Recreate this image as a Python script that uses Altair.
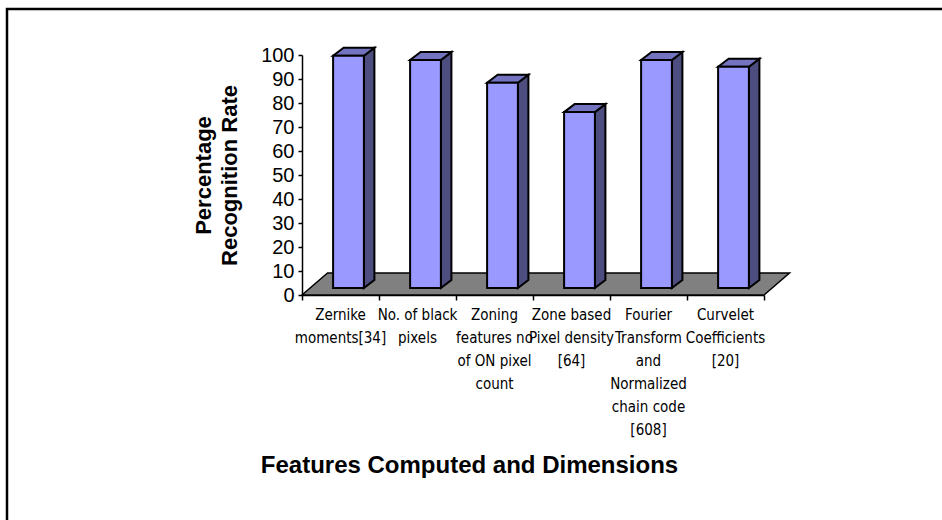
import altair as alt
import pandas as pd

# ---------------- data ----------------
categories = [
    "Zernike moments[34]",
    "No. of black pixels",
    "Zoning features no of ON pixel count",
    "Zone based Pixel density [64]",
    "Fourier Transform and Normalized chain code [608]",
    "Curvelet Coefficients [20]",
]
label_lines = [
    ["Zernike", "moments[34]"],
    ["No. of black", "pixels"],
    ["Zoning", "features no", "of  ON  pixel", "count"],
    ["Zone based", "Pixel density", "[64]"],
    ["Fourier", "Transform", "and", "Normalized", "chain code", "[608]"],
    ["Curvelet", "Coefficients", "[20]"],
]
rates = [96.8, 95.0, 85.5, 73.3, 95.0, 92.2]
y_ticks = list(range(0, 101, 10))
x_ticks = list(range(0, len(categories) + 1))

# ---------------- style / geometry ----------------
W, H = 462, 240
N = len(categories)
PX_X = W / N          # px per category unit
PX_Y = H / 100.0      # px per value unit
FLOOR_DX, FLOOR_DY = 25.5 / PX_X, 22 / PX_Y
FRONT_DX, FRONT_DY = 8 / PX_X, 7 / PX_Y
DEPTH_DX, DEPTH_DY = 10.5 / PX_X, 8 / PX_Y
HALF_W = 0.2

FRONT = "#9999ff"
SIDE = "#4d4d80"
TOP = "#7373c0"
FLOOR = "#808080"
FONT = "Liberation Sans"
NARROW = "Liberation Sans Narrow, Arial Narrow, DejaVu Sans Condensed, Liberation Sans"

xs = alt.Scale(domain=[0, N], nice=False, zero=False)
ys = alt.Scale(domain=[0, 100], nice=False, zero=False)

# floor
floor_df = pd.DataFrame({
    "y": [0, FLOOR_DY],
    "x": [0, FLOOR_DX],
    "x2": [N, N + FLOOR_DX],
})

front_rows, side_rows, top_rows = [], [], []
for i, (c, v) in enumerate(zip(categories, rates)):
    xl = i + 0.5 - HALF_W + FRONT_DX
    xr = i + 0.5 + HALF_W + FRONT_DX
    base = FRONT_DY
    top = v + FRONT_DY
    front_rows.append({"cat": c, "xl": xl, "xr": xr, "base": base, "top": top, "rate": v})
    side_rows.append({"cat": c, "x": xr, "y": top, "y2": base})
    side_rows.append({"cat": c, "x": xr + DEPTH_DX, "y": top + DEPTH_DY, "y2": base + DEPTH_DY})
    top_rows.append({"cat": c, "y": top, "x": xl, "x2": xr})
    top_rows.append({"cat": c, "y": top + DEPTH_DY, "x": xl + DEPTH_DX, "x2": xr + DEPTH_DX})

front_df = pd.DataFrame(front_rows)
side_df = pd.DataFrame(side_rows)
top_df = pd.DataFrame(top_rows)
label_df = pd.DataFrame({
    "center": [i + 0.5 for i in range(N)],
    "label": ["\n".join(l) for l in label_lines],
})

floor = alt.Chart(floor_df).mark_area(
    orient="horizontal", color=FLOOR, stroke="black", strokeWidth=1.5, opacity=1
).encode(
    y=alt.Y("y:Q", scale=ys, axis=None),
    x=alt.X("x:Q", scale=xs, axis=None, stack=False),
    x2="x2:Q",
)

front = alt.Chart(front_df).mark_rect(
    color=FRONT, stroke="black", strokeWidth=2
).encode(
    x=alt.X("xl:Q", scale=xs, axis=alt.Axis(
        values=x_ticks, labels=False, title=None, grid=False,
        tickSize=5, tickColor="black", domainColor="black", domainWidth=1.5, tickWidth=1.5)),
    x2="xr:Q",
    y=alt.Y("base:Q", scale=ys, axis=alt.Axis(
        values=y_ticks, grid=False, tickSize=4, tickColor="black", tickWidth=1.5,
        domainColor="black", domainWidth=1.5,
        labelFont=FONT, labelFontSize=20, labelColor="black", labelPadding=4,
        title=["Percentage", "Recognition Rate"], titleFont=FONT, titleFontSize=22,
        titleFontWeight="bold", titleColor="black", titleAngle=-90,
        titleAlign="center", titleBaseline="top", titleLineHeight=26,
        titleX=-109, titleY=120)),
    y2="top:Q",
)

side = alt.Chart(side_df).mark_area(
    orient="vertical", color=SIDE, stroke="black", strokeWidth=2, opacity=1
).encode(
    x=alt.X("x:Q", scale=xs, axis=None),
    y=alt.Y("y:Q", scale=ys, axis=None, stack=False),
    y2="y2:Q",
    detail="cat:N",
)

topf = alt.Chart(top_df).mark_area(
    orient="horizontal", color=TOP, stroke="black", strokeWidth=2, opacity=1
).encode(
    y=alt.Y("y:Q", scale=ys, axis=None),
    x=alt.X("x:Q", scale=xs, axis=None, stack=False),
    x2="x2:Q",
    detail="cat:N",
)

labels = alt.Chart(label_df).mark_text(
    align="center", baseline="top", lineBreak="\n", lineHeight=23,
    font=NARROW, fontSize=15, color="black"
).encode(
    x=alt.X("center:Q", scale=xs, axis=None),
    y=alt.value(H + 13),
    text="label:N",
)

title = alt.Chart(pd.DataFrame({"t": ["Features Computed and Dimensions"]})).mark_text(
    align="center", baseline="middle", font=FONT, fontSize=24, fontWeight="bold", color="black"
).encode(
    x=alt.value(167.5),
    y=alt.value(411),
    text="t:N",
)

frame = alt.Chart(pd.DataFrame({"k": [0]})).mark_rect(
    fill="white", fillOpacity=0, stroke="black", strokeWidth=2.5
).encode(
    x=alt.value(-295), x2=alt.value(700),
    y=alt.value(-46), y2=alt.value(520),
)

chart = alt.layer(frame, floor, side, topf, front, labels, title).resolve_axis(
    x="independent", y="independent"
).properties(
    width=W, height=H,
    autosize=alt.AutoSizeParams(type="none"),
    padding={"left": 302, "top": 55, "right": 942 - 302 - W, "bottom": 520 - 55 - H},
    background="white",
).configure_view(stroke=None)

chart.save("out.html", embed_options={"renderer": "svg", "actions": False})
